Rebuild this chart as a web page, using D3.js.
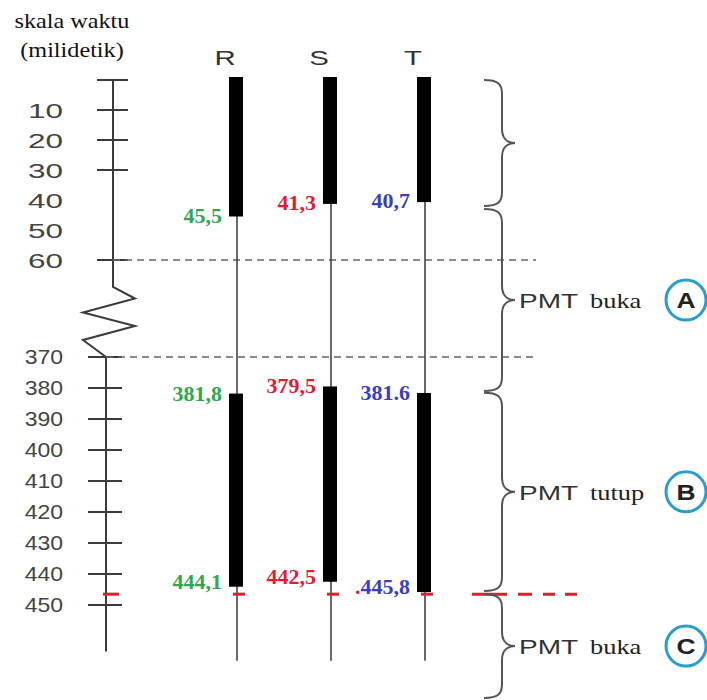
<!DOCTYPE html>
<html><head><meta charset="utf-8">
<script src="https://cdn.jsdelivr.net/npm/d3@7"></script>
<style>body{margin:0;background:#fff}</style>
</head><body>
<svg id="c" width="707" height="700"></svg>
<script>
// ---- data ----
const phases = ["R", "S", "T"];
const phaseColors = ["#2fa84f", "#e31b33", "#3b3fbf"];
const openStart = [0, 0, 0];
const openEnd = [45.5, 41.3, 40.7];
const closeStart = [381.8, 379.5, 381.6];
const closeEnd = [444.1, 442.5, 445.8];
const openEndLabels = ["45,5", "41,3", "40,7"];
const closeStartLabels = ["381,8", "379,5", "381.6"];
const closeEndLabels = ["444,1", "442,5", "445,8"];
const upperTickValues = [0, 10, 20, 30, 60];
const upperTickLabels = [10, 20, 30, 40, 50, 60];
const lowerTickValues = [370, 380, 390, 400, 410, 420, 430, 440, 450];
const breakValues = [60, 370];
const axisEnd = 465;
const lineEnd = 468;
const redLineValue = 446.5;
const braceStarts = [0, 43, 381.5, 446.5];
const braceEnds = [42, 381, 445.5, 480];
const braceWord1 = ["", "PMT", "PMT", "PMT"];
const braceWord2 = ["", "buka", "tutup", "buka"];
const braceMarks = ["", "A", "B", "C"];
const axisTitle = ["skala waktu", "(milidetik)"];

// ---- scales ----
const svg = d3.select("#c");
const y = d3.scaleLinear().domain([0, 60, 370, 450]).range([80, 260, 357, 605]);
const x = d3.scalePoint().domain(phases).range([236, 424]);
const SANS = "'Liberation Sans', Arial, sans-serif";
const SERIF = "'Liberation Serif', 'Times New Roman', serif";

function stext(sel, tx, ty, str, sx, opts) {
  const t = sel.append("text")
    .attr("transform", `translate(${tx},${ty}) scale(${sx},1)`)
    .attr("font-family", opts.family)
    .attr("font-size", opts.size)
    .attr("font-weight", opts.weight || "normal")
    .attr("fill", opts.fill || "#333")
    .attr("text-anchor", opts.anchor || "start")
    .text(str);
  if (opts.dy) t.attr("dy", opts.dy);
  return t;
}

// ---- title ----
axisTitle.forEach((s, i) => stext(svg, 72, 28 + i * 29, s, 1.1,
  {family: SERIF, size: 22, fill: "#111", anchor: "middle"}));

// ---- axis ----
const axTopX = 113, axBotX = 106;
const zs = y(breakValues[0]) + 27, ze = y(breakValues[1]);
const ag = svg.append("g").attr("stroke", "#3a3a3a").attr("stroke-width", 2).attr("fill", "none");
ag.append("path").attr("d", d3.line()([
  [axTopX, y(0)], [axTopX, zs], [135, zs + 11.5], [83, zs + 25.5],
  [135, zs + 39], [83, zs + 53], [axBotX, ze], [axBotX, y(axisEnd)]
]));
ag.selectAll(".ut").data(upperTickValues).join("line")
  .attr("x1", axTopX - 16).attr("x2", axTopX + 15)
  .attr("y1", d => y(d)).attr("y2", d => y(d));
ag.selectAll(".lt").data(lowerTickValues).join("line")
  .attr("x1", axBotX - 18).attr("x2", axBotX + 16)
  .attr("y1", d => y(d)).attr("y2", d => y(d));

upperTickLabels.forEach(v => stext(svg, 63, y(v), String(v), 1.5,
  {family: SANS, size: 21, fill: "#444", anchor: "end", dy: "0.36em"}));
lowerTickValues.forEach(v => stext(svg, 63, y(v), String(v), 1.15,
  {family: SANS, size: 20, fill: "#444", anchor: "end", dy: "0.36em"}));

// ---- break dashed lines ----
svg.selectAll(".brk").data(breakValues).join("line")
  .attr("x1", (d, i) => i === 0 ? axTopX : axBotX).attr("x2", 536)
  .attr("y1", d => y(d)).attr("y2", d => y(d))
  .attr("stroke", "#666").attr("stroke-width", 1.3).attr("stroke-dasharray", "7,5");

// ---- phase lines and bars ----
phases.forEach((p, i) => {
  const px = x(p);
  svg.append("line").attr("x1", px + 1).attr("x2", px + 1)
    .attr("y1", y(openStart[i])).attr("y2", y(lineEnd))
    .attr("stroke", "#444").attr("stroke-width", 1.6);
  svg.append("rect").attr("x", px - 7).attr("width", 14)
    .attr("y", y(openStart[i]) - 3).attr("height", y(openEnd[i]) - y(openStart[i]) + 3)
    .attr("fill", "#000");
  svg.append("rect").attr("x", px - 7).attr("width", 14)
    .attr("y", y(closeStart[i])).attr("height", y(closeEnd[i]) - y(closeStart[i]))
    .attr("fill", "#000");
  stext(svg, px - 11, 65, p, 1.4, {family: SANS, size: 21, fill: "#333", anchor: "middle"});
  const lo = {family: SERIF, size: 20, weight: "bold", fill: phaseColors[i], anchor: "end"};
  stext(svg, px - 14, y(openEnd[i]) + 6, openEndLabels[i], 1.1, lo);
  stext(svg, px - 14, y(closeStart[i]) + 7, closeStartLabels[i], 1.1, lo);
  const t = stext(svg, px - 14, y(closeEnd[i]) + 2, "", 1.1, lo);
  if (i === 2) t.append("tspan").attr("fill", phaseColors[1]).text(".");
  t.append("tspan").text(closeEndLabels[i]);
});

// ---- red boundary marks ----
const ry = y(redLineValue);
const rg = svg.append("g").attr("stroke", "#d9202f").attr("stroke-width", 3);
rg.append("line").attr("x1", axBotX - 3).attr("x2", axBotX + 13).attr("y1", ry).attr("y2", ry);
phases.forEach(p => rg.append("line").attr("x1", x(p) - 3).attr("x2", x(p) + 9).attr("y1", ry).attr("y2", ry));
rg.append("line").attr("x1", 472).attr("x2", 578).attr("y1", ry).attr("y2", ry)
  .attr("stroke-dasharray", "35 11 14 11 12 10 12 40");

// ---- braces ----
const spine = 502;
function bracePath(y1, y2) {
  const ym = (y1 + y2) / 2, w = 18, t = 13, r = 14;
  return `M${spine - w},${y1} C${spine - 4},${y1} ${spine},${y1 + 4} ${spine},${y1 + r}` +
    ` L${spine},${ym - r} C${spine},${ym - 4} ${spine + 6},${ym} ${spine + t},${ym}` +
    ` C${spine + 6},${ym} ${spine},${ym + 4} ${spine},${ym + r}` +
    ` L${spine},${y2 - r} C${spine},${y2 - 4} ${spine - 4},${y2} ${spine - w},${y2}`;
}
braceStarts.forEach((b, i) => {
  const y1 = y(b), y2 = y(braceEnds[i]), ym = (y1 + y2) / 2;
  svg.append("path").attr("d", bracePath(y1, y2))
    .attr("fill", "none").attr("stroke", "#555").attr("stroke-width", 2);
  if (braceWord1[i]) {
    stext(svg, spine + 17, ym + 8, braceWord1[i], 1.4, {family: SANS, size: 20, fill: "#333"});
    stext(svg, 590, ym + 8, braceWord2[i], 1.2, {family: SERIF, size: 22, fill: "#222"});
    svg.append("circle").attr("cx", 686).attr("cy", ym).attr("r", 20)
      .attr("fill", "#fff").attr("stroke", "#2a9dd0").attr("stroke-width", 3);
    stext(svg, 686, ym, braceMarks[i], 1.2,
      {family: SANS, size: 22, weight: "bold", fill: "#222", anchor: "middle", dy: "0.36em"});
  }
});
</script>
</body></html>
